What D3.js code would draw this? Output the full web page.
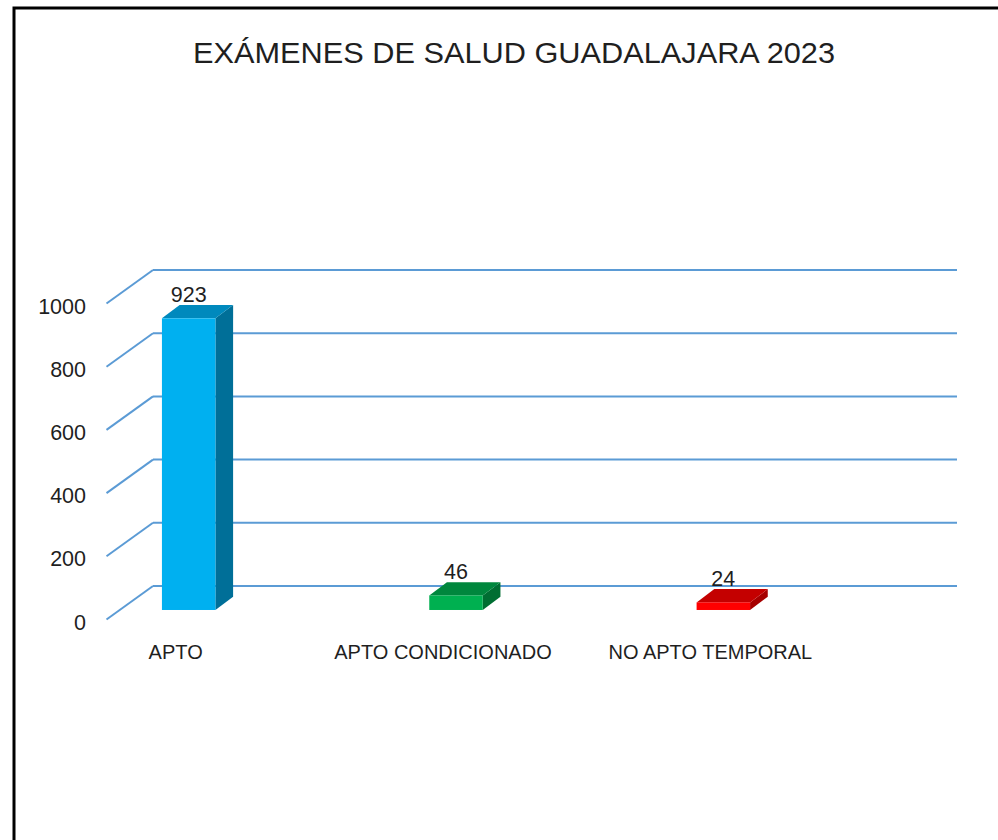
<!DOCTYPE html>
<meta charset="utf-8">
<title>Exámenes de salud Guadalajara 2023</title>
<style>
    body { margin: 0; background: #fff; }
    text { font-family: "Liberation Sans", Arial, sans-serif; fill: #1f1f1f; }
</style>
<script src="https://d3js.org/d3.v7.js"></script>
<body>
<script>
    // data
    const categories = ["APTO", "APTO CONDICIONADO", "NO APTO TEMPORAL"];
    const values = [923, 46, 24];
    const yTicks = [0, 200, 400, 600, 800, 1000];
    const title = "EXÁMENES DE SALUD GUADALAJARA 2023";

    const fronts = ["#00b0f0", "#00b050", "#ff0000"],
        tops = ["#0089bd", "#00873d", "#c40000"],
        sides = ["#006f98", "#006e32", "#a60000"];

    const width = 998, height = 840;

    const svg = d3.select("body")
        .append("svg")
        .attr("width", width)
        .attr("height", height);

    // frame round the chart
    svg.append("rect")
        .attr("x", 14).attr("y", 8)
        .attr("width", 1000).attr("height", 900)
        .attr("fill", "none")
        .attr("stroke", "#000")
        .attr("stroke-width", 3);

    svg.append("text")
        .attr("x", 514)
        .attr("y", 63)
        .attr("text-anchor", "middle")
        .attr("textLength", 642)
        .attr("lengthAdjust", "spacingAndGlyphs")
        .style("font-size", "29.5px")
        .text(title);

    // back wall scale, floor depth goes toward the viewer
    const y = d3.scaleLinear().domain([0, 1000]).range([586, 270]);
    const wall = { x0: 153, x1: 957 };
    const depth = { dx: 46.5, dy: 33.5 };

    // gridlines: back wall line + floor/side diagonal
    const grid = svg.append("g");
    grid.selectAll("line.h")
        .data(yTicks)
        .join("line")
        .attr("class", "h")
        .attr("x1", wall.x0).attr("x2", wall.x1)
        .attr("y1", d => y(d)).attr("y2", d => y(d));
    grid.selectAll("line.d")
        .data(yTicks)
        .join("line")
        .attr("class", "d")
        .attr("x1", wall.x0 - depth.dx).attr("x2", wall.x0)
        .attr("y1", d => y(d) + depth.dy).attr("y2", d => y(d));
    grid.selectAll("line")
        .attr("stroke", "#5b9bd5")
        .attr("stroke-width", 2);

    // y tick labels
    svg.selectAll("text.tick")
        .data(yTicks)
        .join("text")
        .attr("class", "tick")
        .attr("x", 86)
        .attr("y", d => y(d) + depth.dy + 10)
        .attr("text-anchor", "end")
        .style("font-size", "21.5px")
        .text(d => d);

    // bars, front plane sits 0.716 of the depth in from the back wall
    const frontShift = { dx: -depth.dx * 0.716, dy: depth.dy * 0.716 };
    const barDepth = { dx: 17.7, dy: -13.3 };

    const x = d3.scaleBand()
        .domain(categories)
        .range([55, 857])
        .paddingInner(0.8)
        .paddingOuter(0.4);

    const yf = v => y(v) + frontShift.dy;
    const bars = svg.append("g");

    categories.forEach((c, i) => {
        const v = values[i];
        const x0 = x(c), x1 = x0 + x.bandwidth();
        const yt = yf(v), yb = yf(0);
        const g = bars.append("g");
        // side face
        g.append("path")
            .attr("d", `M${x1},${yb}L${x1},${yt}L${x1 + barDepth.dx},${yt + barDepth.dy}L${x1 + barDepth.dx},${yb + barDepth.dy}Z`)
            .attr("fill", sides[i]);
        // top face
        g.append("path")
            .attr("d", `M${x0},${yt}L${x1},${yt}L${x1 + barDepth.dx},${yt + barDepth.dy}L${x0 + barDepth.dx},${yt + barDepth.dy}Z`)
            .attr("fill", tops[i]);
        // front face
        g.append("rect")
            .attr("x", x0).attr("y", yt)
            .attr("width", x.bandwidth())
            .attr("height", yb - yt)
            .attr("fill", fronts[i]);

        // value label
        svg.append("text")
            .attr("x", x0 + x.bandwidth() / 2)
            .attr("y", yt + barDepth.dy - 3)
            .attr("text-anchor", "middle")
            .style("font-size", "21.5px")
            .text(v);
    });

    // category labels
    svg.selectAll("text.cat")
        .data(categories)
        .join("text")
        .attr("class", "cat")
        .attr("x", d => x(d) + x.bandwidth() / 2 - 13)
        .attr("y", 659)
        .attr("text-anchor", "middle")
        .style("font-size", "20px")
        .text(d => d);
</script>
</body>
